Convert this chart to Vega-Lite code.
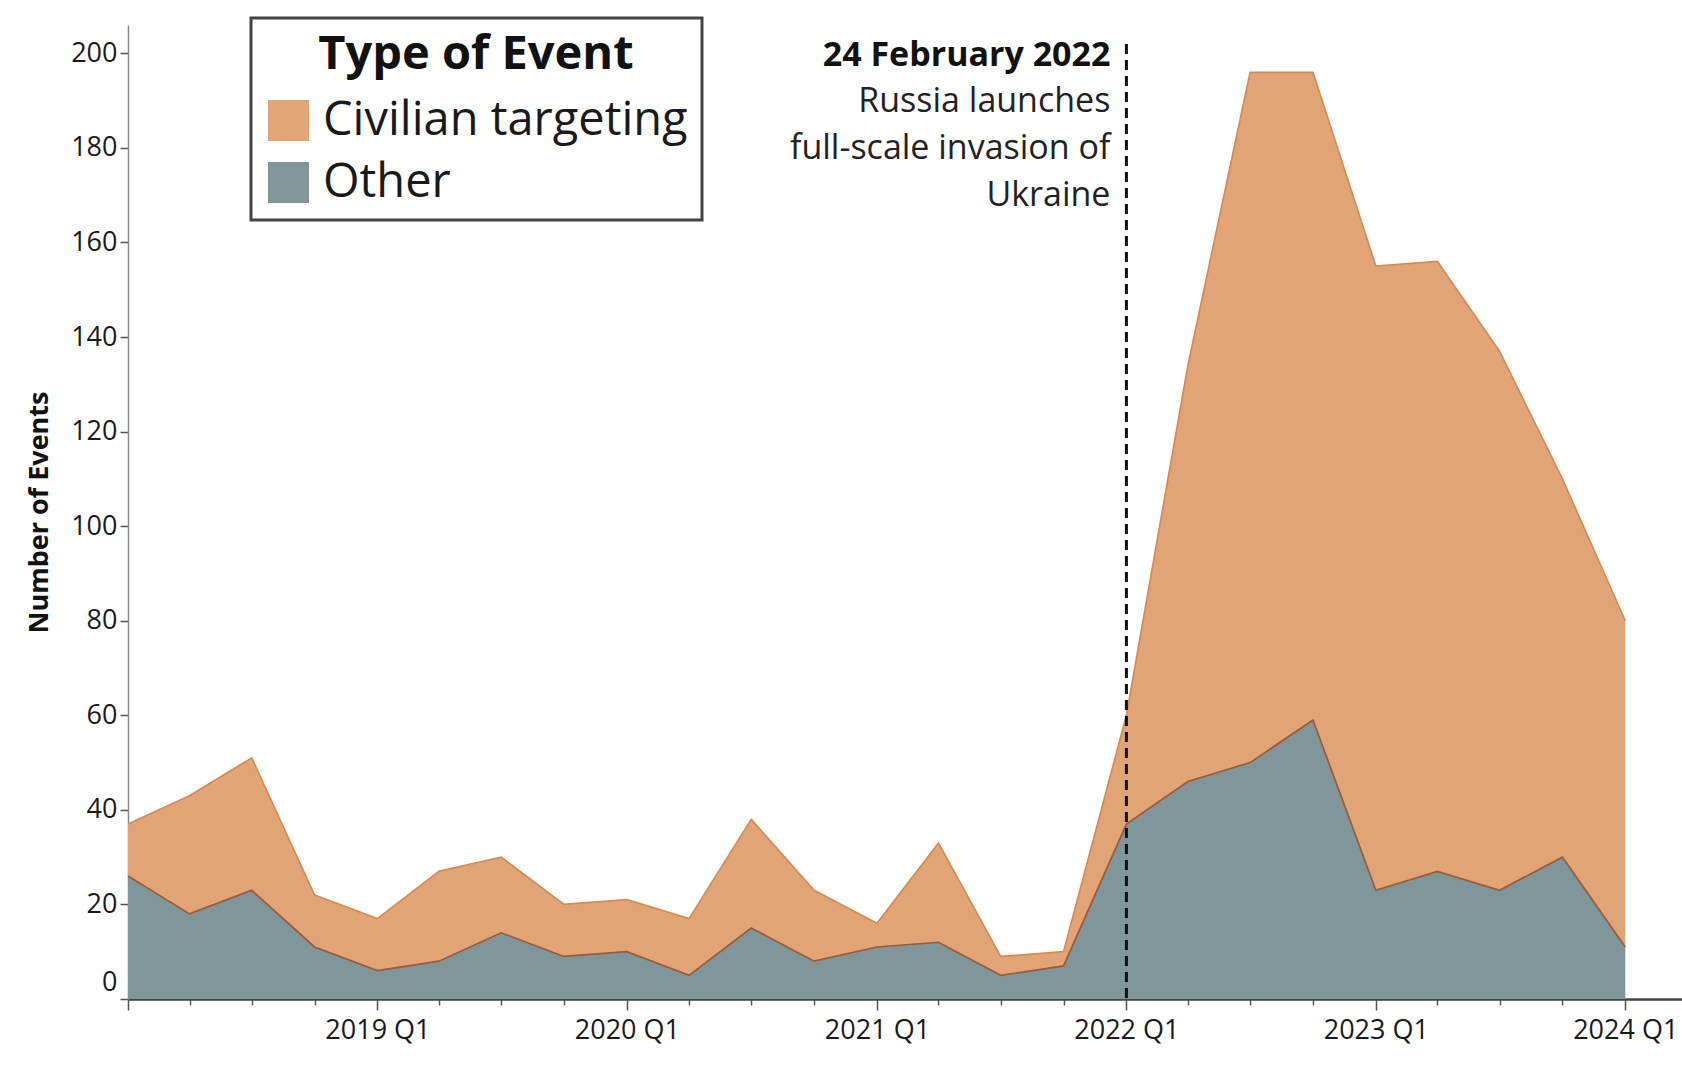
{
  "$schema": "https://vega.github.io/schema/vega-lite/v6.json",
  "autosize": {"type": "none"},
  "padding": {"left": 128, "top": 25, "right": 0, "bottom": 73},
  "width": 1554,
  "height": 974,
  "background": "white",
  "config": {
    "font": "Open Sans",
    "view": {"stroke": null}
  },
  "datasets": {
    "events": [
      {"date": "2018-01-01", "type": "Civilian targeting", "count": 11},
      {"date": "2018-04-01", "type": "Civilian targeting", "count": 25},
      {"date": "2018-07-01", "type": "Civilian targeting", "count": 28},
      {"date": "2018-10-01", "type": "Civilian targeting", "count": 11},
      {"date": "2019-01-01", "type": "Civilian targeting", "count": 11},
      {"date": "2019-04-01", "type": "Civilian targeting", "count": 19},
      {"date": "2019-07-01", "type": "Civilian targeting", "count": 16},
      {"date": "2019-10-01", "type": "Civilian targeting", "count": 11},
      {"date": "2020-01-01", "type": "Civilian targeting", "count": 11},
      {"date": "2020-04-01", "type": "Civilian targeting", "count": 12},
      {"date": "2020-07-01", "type": "Civilian targeting", "count": 23},
      {"date": "2020-10-01", "type": "Civilian targeting", "count": 15},
      {"date": "2021-01-01", "type": "Civilian targeting", "count": 5},
      {"date": "2021-04-01", "type": "Civilian targeting", "count": 21},
      {"date": "2021-07-01", "type": "Civilian targeting", "count": 4},
      {"date": "2021-10-01", "type": "Civilian targeting", "count": 3},
      {"date": "2022-01-01", "type": "Civilian targeting", "count": 23},
      {"date": "2022-04-01", "type": "Civilian targeting", "count": 88},
      {"date": "2022-07-01", "type": "Civilian targeting", "count": 146},
      {"date": "2022-10-01", "type": "Civilian targeting", "count": 137},
      {"date": "2023-01-01", "type": "Civilian targeting", "count": 132},
      {"date": "2023-04-01", "type": "Civilian targeting", "count": 129},
      {"date": "2023-07-01", "type": "Civilian targeting", "count": 114},
      {"date": "2023-10-01", "type": "Civilian targeting", "count": 80},
      {"date": "2024-01-01", "type": "Civilian targeting", "count": 69},
      {"date": "2018-01-01", "type": "Other", "count": 26},
      {"date": "2018-04-01", "type": "Other", "count": 18},
      {"date": "2018-07-01", "type": "Other", "count": 23},
      {"date": "2018-10-01", "type": "Other", "count": 11},
      {"date": "2019-01-01", "type": "Other", "count": 6},
      {"date": "2019-04-01", "type": "Other", "count": 8},
      {"date": "2019-07-01", "type": "Other", "count": 14},
      {"date": "2019-10-01", "type": "Other", "count": 9},
      {"date": "2020-01-01", "type": "Other", "count": 10},
      {"date": "2020-04-01", "type": "Other", "count": 5},
      {"date": "2020-07-01", "type": "Other", "count": 15},
      {"date": "2020-10-01", "type": "Other", "count": 8},
      {"date": "2021-01-01", "type": "Other", "count": 11},
      {"date": "2021-04-01", "type": "Other", "count": 12},
      {"date": "2021-07-01", "type": "Other", "count": 5},
      {"date": "2021-10-01", "type": "Other", "count": 7},
      {"date": "2022-01-01", "type": "Other", "count": 37},
      {"date": "2022-04-01", "type": "Other", "count": 46},
      {"date": "2022-07-01", "type": "Other", "count": 50},
      {"date": "2022-10-01", "type": "Other", "count": 59},
      {"date": "2023-01-01", "type": "Other", "count": 23},
      {"date": "2023-04-01", "type": "Other", "count": 27},
      {"date": "2023-07-01", "type": "Other", "count": 23},
      {"date": "2023-10-01", "type": "Other", "count": 30},
      {"date": "2024-01-01", "type": "Other", "count": 11}
    ],
    "note": [
      {"date": "2022-01-01", "headline": "24 February 2022", "body": ["Russia launches", "full-scale invasion of", "Ukraine"]}
    ]
  },
  "layer": [
    {
      "data": {"name": "events"},
      "transform": [
        {"stack": "count", "groupby": ["date"], "sort": [{"field": "type", "order": "descending"}], "as": ["y0", "y1"]}
      ],
      "mark": {"type": "area", "opacity": 1},
      "encoding": {
        "x": {
          "field": "date", "type": "temporal",
          "scale": {"type": "utc", "domain": [{"year": 2018, "month": 1, "date": 1, "utc": true}, {"year": 2024, "month": 3, "date": 24, "utc": true}]},
          "axis": {
            "title": null,
            "grid": false,
            "values": [
              {"year": 2018, "month": 1, "date": 1, "utc": true}, {"year": 2018, "month": 4, "date": 1, "utc": true}, {"year": 2018, "month": 7, "date": 1, "utc": true}, {"year": 2018, "month": 10, "date": 1, "utc": true},
              {"year": 2019, "month": 1, "date": 1, "utc": true}, {"year": 2019, "month": 4, "date": 1, "utc": true}, {"year": 2019, "month": 7, "date": 1, "utc": true}, {"year": 2019, "month": 10, "date": 1, "utc": true},
              {"year": 2020, "month": 1, "date": 1, "utc": true}, {"year": 2020, "month": 4, "date": 1, "utc": true}, {"year": 2020, "month": 7, "date": 1, "utc": true}, {"year": 2020, "month": 10, "date": 1, "utc": true},
              {"year": 2021, "month": 1, "date": 1, "utc": true}, {"year": 2021, "month": 4, "date": 1, "utc": true}, {"year": 2021, "month": 7, "date": 1, "utc": true}, {"year": 2021, "month": 10, "date": 1, "utc": true},
              {"year": 2022, "month": 1, "date": 1, "utc": true}, {"year": 2022, "month": 4, "date": 1, "utc": true}, {"year": 2022, "month": 7, "date": 1, "utc": true}, {"year": 2022, "month": 10, "date": 1, "utc": true},
              {"year": 2023, "month": 1, "date": 1, "utc": true}, {"year": 2023, "month": 4, "date": 1, "utc": true}, {"year": 2023, "month": 7, "date": 1, "utc": true}, {"year": 2023, "month": 10, "date": 1, "utc": true},
              {"year": 2024, "month": 1, "date": 1, "utc": true}
            ],
            "labelExpr": "utcmonth(datum.value) === 0 && utcyear(datum.value) > 2018 ? utcyear(datum.value) + ' Q1' : ''",
            "labelFontSize": 27,
            "labelColor": "#1a1a1a",
            "labelPadding": 7,
            "labelFlush": false,
            "labelOverlap": false,
            "domainColor": "#444",
            "domainWidth": 2.5,
            "tickColor": "#555",
            "tickWidth": 1.5,
            "tickSize": {"condition": {"test": "utcmonth(datum.value) === 0", "value": 11}, "value": 6}
          }
        },
        "y": {
          "field": "y1", "type": "quantitative",
          "scale": {"domain": [0, 206], "nice": false},
          "axis": {
            "title": "Number of Events",
            "titleFontSize": 27,
            "titleFontWeight": "bold",
            "titleColor": "#111",
            "titlePadding": 17,
            "grid": false,
            "values": [0, 20, 40, 60, 80, 100, 120, 140, 160, 180, 200],
            "labelFontSize": 27,
            "labelColor": "#1a1a1a",
            "labelPadding": 3,
            "labelOffset": {"condition": {"test": "datum.value === 0", "value": -17}, "value": 0},
            "tickSize": 8,
            "tickColor": "#555",
            "tickWidth": 1.5,
            "domainColor": "#888",
            "domainWidth": 1.5
          }
        },
        "y2": {"field": "y0"},
        "color": {
          "field": "type", "type": "nominal",
          "scale": {"domain": ["Civilian targeting", "Other"], "range": ["#E1A476", "#7F969A"]},
          "legend": {
            "title": "Type of Event",
            "orient": "none",
            "legendX": 123,
            "legendY": -7,
            "titleFontSize": 47,
            "titleFontWeight": "bold",
            "titleColor": "#111",
            "titleAnchor": "middle",
            "titleLimit": 800,
            "titlePadding": 18,
            "labelFontSize": 47,
            "labelColor": "#1a1a1a",
            "labelOffset": 11,
            "labelLimit": 800,
            "symbolType": "square",
            "symbolSize": 1680,
            "symbolStrokeWidth": 0,
            "symbolOpacity": 1,
            "rowPadding": 14,
            "padding": 14,
            "strokeColor": "#444",
            "fillColor": "white",
            "cornerRadius": 0,
            "encode": {"legend": {"update": {"strokeWidth": {"value": 3}}}}
          }
        }
      }
    },
    {
      "data": {"name": "events"},
      "transform": [
        {"stack": "count", "groupby": ["date"], "sort": [{"field": "type", "order": "descending"}], "as": ["y0", "y1"]}
      ],
      "mark": {"type": "line", "strokeWidth": 1.7},
      "encoding": {
        "x": {"field": "date", "type": "temporal"},
        "y": {"field": "y1", "type": "quantitative", "title": "Number of Events"},
        "stroke": {
          "field": "type", "type": "nominal",
          "scale": {"domain": ["Civilian targeting", "Other"], "range": ["#D98A52", "#995B38"]},
          "legend": null
        }
      }
    },
    {
      "data": {"name": "note"},
      "mark": {"type": "rule", "strokeDash": [10, 6], "strokeWidth": 3, "color": "#111"},
      "encoding": {
        "x": {"field": "date", "type": "temporal"},
        "y": {"datum": 202},
        "y2": {"datum": 0}
      }
    },
    {
      "data": {"name": "note"},
      "mark": {"type": "text", "align": "right", "baseline": "middle", "dx": -16, "fontSize": 34, "fontWeight": "bold", "color": "#111"},
      "encoding": {
        "x": {"field": "date", "type": "temporal"},
        "y": {"datum": 199.5},
        "text": {"field": "headline", "type": "nominal"}
      }
    },
    {
      "data": {"name": "note"},
      "mark": {"type": "text", "align": "right", "baseline": "middle", "dx": -16, "fontSize": 34, "lineHeight": 47, "color": "#222"},
      "encoding": {
        "x": {"field": "date", "type": "temporal"},
        "y": {"datum": 189.7},
        "text": {"field": "body", "type": "nominal"}
      }
    }
  ]
}
